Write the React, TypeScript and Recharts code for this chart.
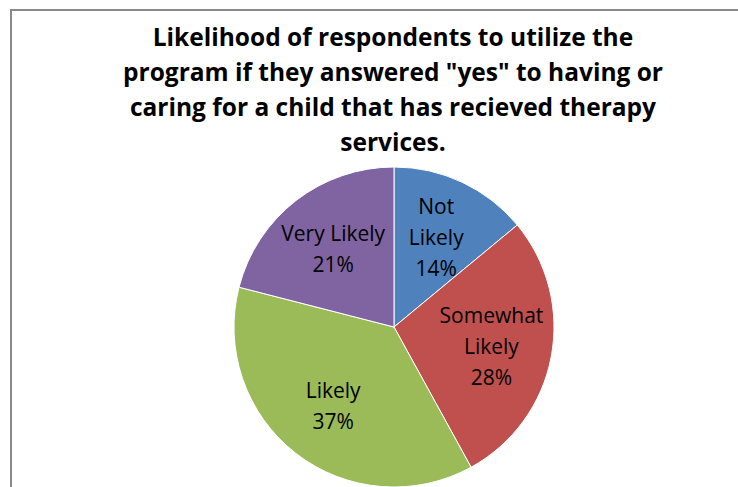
import React from "react";
import { PieChart, Pie, Cell } from "recharts";

const categories = ["Not Likely", "Somewhat Likely", "Likely", "Very Likely"];
const values = [14, 28, 37, 21];
const labelLines = [["Not", "Likely"], ["Somewhat", "Likely"], ["Likely"], ["Very Likely"]];
const colors = ["#4F81BD", "#C0504D", "#9BBB59", "#8064A2"];
const titleLines = [
  "Likelihood of respondents to utilize the",
  'program if they answered "yes" to having or',
  "caring for a child that has recieved therapy",
  "services.",
];

const data = categories.map((name, i) => ({ name, value: values[i] }));
const total = values.reduce((a, b) => a + b, 0);

const RAD = Math.PI / 180;
const FONT = "'Open Sans', 'Noto Sans', sans-serif";

const renderLabel = (props: any) => {
  const { cx, cy, midAngle, outerRadius, index } = props;
  const r = outerRadius * 0.62;
  const x = cx + r * Math.cos(-midAngle * RAD);
  const y = cy + r * Math.sin(-midAngle * RAD);
  const lines = [...labelLines[index], `${Math.round((values[index] / total) * 100)}%`];
  const lh = 31;
  const startY = y - ((lines.length - 1) * lh) / 2;
  return (
    <text
      x={x}
      y={startY}
      textAnchor="middle"
      dominantBaseline="central"
      fill="#000"
      style={{ fontFamily: FONT, fontSize: 21 }}
    >
      {lines.map((l, i) => (
        <tspan key={i} x={x} y={startY + i * lh} dominantBaseline="central">
          {l}
        </tspan>
      ))}
    </text>
  );
};

export default function App() {
  return (
    <div
      style={{
        position: "absolute",
        left: 0,
        top: 0,
        width: 738,
        height: 487,
        overflow: "hidden",
        background: "#fff",
      }}
    >
      <div
        style={{
          position: "absolute",
          left: 10,
          top: 9,
          width: 800,
          height: 600,
          border: "2px solid #898989",
          boxSizing: "border-box",
        }}
      />
      <div
        style={{
          position: "absolute",
          left: 88,
          top: 19,
          width: 610,
          textAlign: "center",
          fontFamily: FONT,
          fontWeight: 700,
          fontSize: 24.5,
          lineHeight: "35px",
          color: "#000",
        }}
      >
        {titleLines.map((t, i) => (
          <div key={i}>{t}</div>
        ))}
      </div>
      <div style={{ position: "absolute", left: 0, top: 0 }}>
        <PieChart width={738} height={487} margin={{ top: 0, right: 0, bottom: 0, left: 0 }}>
          <Pie
            data={data}
            dataKey="value"
            nameKey="name"
            cx={394}
            cy={327}
            outerRadius={160}
            startAngle={90}
            endAngle={-270}
            stroke="#ffffff"
            strokeWidth={1}
            label={renderLabel}
            labelLine={false}
            isAnimationActive={false}
          >
            {data.map((d, i) => (
              <Cell key={d.name} fill={colors[i]} />
            ))}
          </Pie>
        </PieChart>
      </div>
    </div>
  );
}
